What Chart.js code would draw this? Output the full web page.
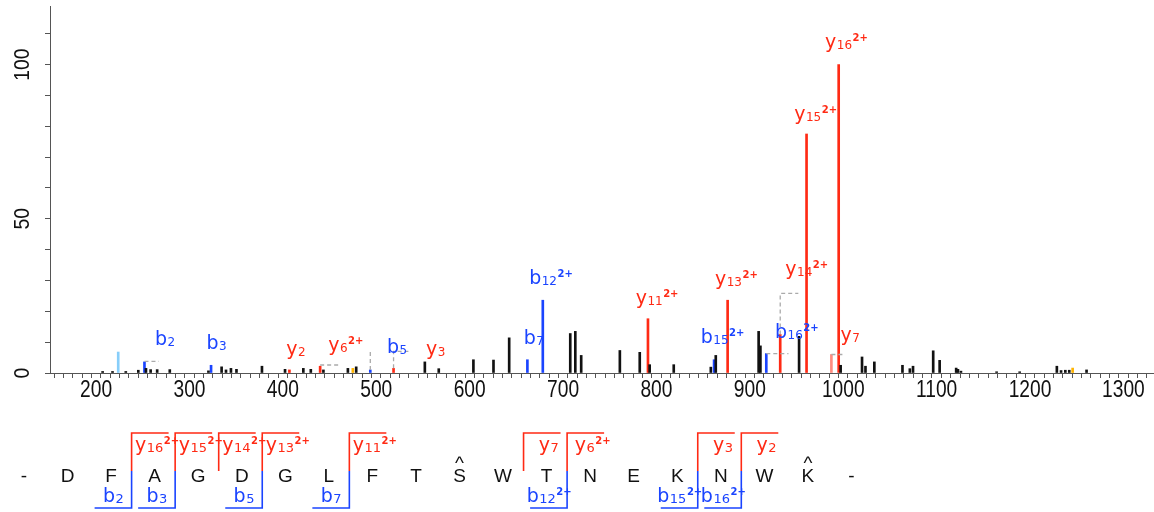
<!DOCTYPE html>
<html>
<head>
<meta charset="utf-8">
<script src="https://cdn.jsdelivr.net/npm/chart.js@4.4.1/dist/chart.umd.min.js"></script>
<style>
html, body { margin: 0; padding: 0; background: #fff; }
#wrap { width: 1154px; height: 512px; }
</style>
</head>
<body>
<div id="wrap"><canvas id="mycanvas" width="1154" height="512"></canvas></div>
<script>
// unannotated peaks (m/z, relative intensity)
var blackMz  = [207.0, 217.6, 231.8, 245.2, 253.4, 258.4, 265.4, 278.9, 320.3, 334.4, 339.1, 344.4, 350.3, 377.6, 402.3, 421.9, 429.9, 443.4, 469.6, 478.5,
                552.0, 566.9, 604.0, 625.5, 642.3, 707.7, 713.1, 719.4, 760.8, 782.1, 792.7, 818.5, 858.2, 863.5, 909.4, 911.3, 952.7, 997.2,
                1020.1, 1023.8, 1033.3, 1063.4, 1071.3, 1074.7, 1096.3, 1103.2, 1120.9, 1122.8, 1126.0, 1164.2, 1188.9, 1228.7, 1233.2, 1237.8, 1242.0, 1260.5];
var blackInt = [0.5, 0.5, 0.5, 0.9, 1.5, 1.1, 1.1, 1.1, 0.7, 2.0, 1.0, 1.5, 1.2, 2.2, 1.2, 1.5, 1.2, 1.0, 1.5, 2.0,
                3.6, 1.4, 4.3, 4.2, 11.4, 12.8, 13.5, 5.7, 7.3, 6.7, 2.7, 2.7, 1.9, 5.7, 13.5, 8.8, 11.9, 2.5,
                5.2, 2.2, 3.6, 2.5, 1.4, 2.2, 7.2, 4.1, 1.6, 1.2, 0.6, 0.4, 0.4, 2.2, 0.8, 0.9, 0.9, 1.0];

// b ions (blue)
var bMz  = [251.8, 323.1, 493.6, 661.8, 678.3, 861.7, 917.6];
var bInt = [3.6, 2.5, 1.0, 4.3, 23.6, 4.3, 6.3];

// y ions (red)
var yMz  = [407.0, 439.9, 518.5, 790.9, 876.2, 932.5, 960.7, 995.1];
var yInt = [1.0, 2.2, 1.5, 17.6, 23.6, 12.5, 77.5, 100];

// other matched peaks
var lossMz = [987.3];  var lossInt = [6.0];
var precMz = [223.7];  var precInt = [6.8];
var immMz  = [474.9, 1245.6];  var immInt = [1.5, 1.6];

// isotope / shift markers (dashed)
var dashPaths = [
  [[251.8, 3.8], [267.2, 3.8]],
  [[439.9, 2.6], [460.1, 2.6]],
  [[493.6, 1.0], [493.6, 7.4]],
  [[518.5, 1.5], [518.5, 7.0], [534.4, 7.0]],
  [[917.6, 6.3], [941.3, 6.3]],
  [[932.5, 12.5], [932.5, 25.8], [951.9, 25.8]],
  [[987.3, 6.0], [1001.5, 6.0]]
];

// peak labels: [ion, number, charge, m/z, intensity]
var peakLabels = [
  ['b', '2', '', 273.6, 11.1],
  ['b', '3', '', 328.8, 9.8],
  ['y', '2', '', 413.7, 7.8],
  ['y', '6', '2+', 466.8, 9.1],
  ['b', '5', '', 522.0, 8.5],
  ['y', '3', '', 563.4, 8.1],
  ['b', '7', '', 668.5, 11.4],
  ['b', '12', '2+', 686.5, 30.9],
  ['y', '11', '2+', 800.1, 24.4],
  ['b', '15', '2+', 870.2, 11.7],
  ['y', '13', '2+', 885.0, 30.6],
  ['b', '16', '2+', 949.8, 13.4],
  ['y', '14', '2+', 960.4, 33.9],
  ['y', '7', '', 1007.1, 12.4],
  ['y', '15', '2+', 969.9, 84.0],
  ['y', '16', '2+', 1002.9, 107.5]
];

var xTicks = [];
for (var t = 160; t <= 1320; t += 10) xTicks.push(t);
var xTickLabels = [200, 300, 400, 500, 600, 700, 800, 900, 1000, 1100, 1200, 1300];
var yTicks = [0, 10, 20, 30, 40, 50, 60, 70, 80, 90, 100, 110];
var yTickLabels = [0, 50, 100];

// peptide sequence and fragment coverage
var residues = ['D', 'F', 'A', 'G', 'D', 'G', 'L', 'F', 'T', 'S', 'W', 'T', 'N', 'E', 'K', 'N', 'W', 'K'];
var modified = [10, 18];
var seqB = [[2, ''], [3, ''], [5, ''], [7, ''], [12, '2+'], [15, '2+'], [16, '2+']];
var seqY = [[16, '2+'], [15, '2+'], [14, '2+'], [13, '2+'], [11, '2+'], [7, ''], [6, '2+'], [3, ''], [2, '']];

var RED = '#ff2a14';
var BLUE = '#1a44ff';
var SANS = "'Liberation Sans', Arial, sans-serif";
var LBL = "'DejaVu Sans', sans-serif";

function pts(xs, ys) {
  var out = [];
  for (var i = 0; i < xs.length; i++) out.push({ x: xs[i], y: ys[i] });
  return out;
}

function barSet(name, xs, ys, color) {
  return { type: 'bar', label: name, data: pts(xs, ys), backgroundColor: color,
           barThickness: 2, grouped: false, borderWidth: 0, order: 2 };
}

var datasets = [
  barSet('other', blackMz, blackInt, '#111'),
  barSet('precursor', precMz, precInt, '#87cefa'),
  barSet('immonium', immMz, immInt, '#ffb400'),
  barSet('loss', lossMz, lossInt, '#ff8c80'),
  barSet('b', bMz, bInt, BLUE),
  barSet('y', yMz, yInt, RED)
];
dashPaths.forEach(function (p, i) {
  datasets.push({ type: 'line', label: 'iso' + i,
    data: p.map(function (q) { return { x: q[0], y: q[1] }; }),
    borderColor: '#aaaaaa', borderWidth: 1.3, borderDash: [4, 3],
    pointRadius: 0, fill: false, tension: 0, order: 1 });
});

// ion label like b12 with charge superscript
function drawIon(ctx, ion, num, chg, cx, by, color, big, sub, sup) {
  ctx.save();
  ctx.fillStyle = color;
  ctx.textBaseline = 'alphabetic';
  ctx.textAlign = 'left';
  ctx.font = big + 'px ' + LBL;
  var w1 = ctx.measureText(ion).width;
  ctx.font = sub + 'px ' + LBL;
  var w2 = ctx.measureText(num).width;
  ctx.font = 'bold ' + sup + 'px ' + LBL;
  var w3 = chg ? ctx.measureText(chg).width : 0;
  var x = cx - (w1 + w2 + w3) / 2;
  ctx.font = big + 'px ' + LBL;
  ctx.fillText(ion, x, by);
  ctx.font = sub + 'px ' + LBL;
  ctx.fillText(num, x + w1 + 0.5, by + 1);
  if (chg) {
    ctx.font = 'bold ' + sup + 'px ' + LBL;
    ctx.fillText(chg, x + w1 + w2 + 1, by - 7);
  }
  ctx.restore();
}

// narrow-looking axis numbers
function narrowText(ctx, txt, x, y, size, squeeze, angle) {
  ctx.save();
  ctx.translate(x, y);
  if (angle) ctx.rotate(angle);
  ctx.scale(squeeze, 1);
  ctx.font = size + 'px ' + SANS;
  ctx.fillText(txt, 0, 0);
  ctx.restore();
}

var annotate = {
  id: 'annotate',
  afterDatasetsDraw: function (chart) {
    var ctx = chart.ctx, xs = chart.scales.x, ys = chart.scales.y;

    ctx.save();
    ctx.fillStyle = '#111';
    ctx.textAlign = 'center';
    ctx.textBaseline = 'alphabetic';
    xTickLabels.forEach(function (v) {
      narrowText(ctx, String(v), xs.getPixelForValue(v), 397, 24, 0.8, 0);
    });
    yTickLabels.forEach(function (v) {
      narrowText(ctx, String(v), 28.5, ys.getPixelForValue(v), 22, 0.88, -Math.PI / 2);
    });
    ctx.restore();

    // peak labels
    peakLabels.forEach(function (l) {
      var cx = xs.getPixelForValue(l[3]);
      var cy = ys.getPixelForValue(l[4]);
      drawIon(ctx, l[0], l[1], l[2], cx, cy + 6.5, l[0] === 'b' ? BLUE : RED, 19, 12, 10);
    });

    // sequence
    var step = 43.55, x0 = 24, base = 482;
    function rx(i) { return x0 + step * i; }
    var seq = ['-'].concat(residues, ['-']);
    ctx.save();
    ctx.fillStyle = '#111';
    ctx.textAlign = 'center';
    ctx.textBaseline = 'alphabetic';
    ctx.font = '19px ' + SANS;
    seq.forEach(function (r, i) { ctx.fillText(r, rx(i), base); });
    modified.forEach(function (i) { ctx.fillText('^', rx(i), base - 13); });
    ctx.restore();

    ctx.save();
    ctx.lineWidth = 1.6;
    seqY.forEach(function (f) {
      var after = residues.length - f[0];
      var gx = rx(after) + 20.5;
      ctx.strokeStyle = RED;
      ctx.beginPath();
      ctx.moveTo(gx + 37, 433); ctx.lineTo(gx, 433); ctx.lineTo(gx, 471);
      ctx.stroke();
      drawIon(ctx, 'y', String(f[0]), f[1], rx(after + 1) + 2, 451, RED, 19, 13, 10);
    });
    seqB.forEach(function (f) {
      var gx = rx(f[0]) + 20.5;
      ctx.strokeStyle = BLUE;
      ctx.beginPath();
      ctx.moveTo(gx, 471); ctx.lineTo(gx, 508); ctx.lineTo(gx - 37, 508);
      ctx.stroke();
      drawIon(ctx, 'b', String(f[0]), f[1], rx(f[0]) + 2, 502, BLUE, 19, 13, 10);
    });
    ctx.restore();
  }
};

var ctx = document.getElementById('mycanvas');
var chart = new Chart(ctx, {
  type: 'bar',
  data: { datasets: datasets },
  options: {
    responsive: false,
    animation: false,
    devicePixelRatio: 1,
    layout: { padding: { top: 6, right: 1, left: 0, bottom: 0 } },
    plugins: { legend: { display: false }, tooltip: { enabled: false } },
    scales: {
      x: {
        type: 'linear', min: 155.7, max: 1326.6,
        afterBuildTicks: function (s) { s.ticks = xTicks.map(function (v) { return { value: v }; }); },
        afterFit: function (s) { s.height = 139; },
        ticks: { display: false },
        grid: { drawOnChartArea: false, drawTicks: true, tickLength: 5, color: '#555' },
        border: { color: '#555', width: 1 }
      },
      y: {
        min: 0, max: 119,
        afterBuildTicks: function (s) { s.ticks = yTicks.map(function (v) { return { value: v }; }); },
        afterFit: function (s) { s.width = 50; },
        ticks: { display: false },
        grid: { drawOnChartArea: false, drawTicks: true, tickLength: 5, color: '#555' },
        border: { color: '#555', width: 1 }
      }
    }
  },
  plugins: [annotate]
});
</script>
</body>
</html>
